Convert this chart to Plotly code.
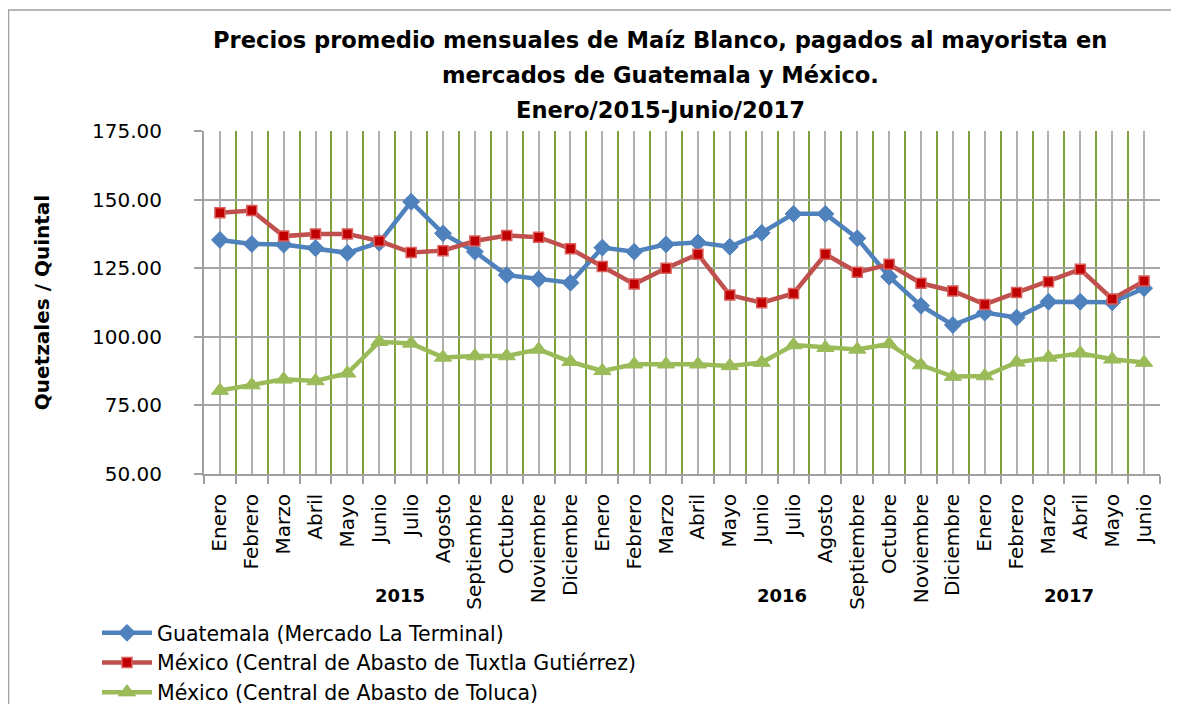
import plotly.graph_objects as go

# ---------------- data ----------------
months = ["Enero", "Febrero", "Marzo", "Abril", "Mayo", "Junio", "Julio", "Agosto",
          "Septiembre", "Octubre", "Noviembre", "Diciembre",
          "Enero", "Febrero", "Marzo", "Abril", "Mayo", "Junio", "Julio", "Agosto",
          "Septiembre", "Octubre", "Noviembre", "Diciembre",
          "Enero", "Febrero", "Marzo", "Abril", "Mayo", "Junio"]
years = ["2015"] * 12 + ["2016"] * 12 + ["2017"] * 6

guatemala = [135.3, 133.8, 133.6, 132.3, 130.6, 134.3, 149.2, 137.7, 131.0, 122.5, 121.0, 119.7,
             132.5, 131.0, 133.7, 134.4, 132.8, 137.9, 144.8, 144.8, 135.9, 121.9, 111.3, 104.3,
             108.8, 107.0, 112.8, 112.8, 112.6, 117.7]
tuxtla = [145.2, 146.0, 136.7, 137.5, 137.5, 134.9, 130.7, 131.4, 134.9, 136.9, 136.3, 132.1,
          125.6, 119.2, 125.0, 130.1, 115.2, 112.4, 115.8, 130.1, 123.5, 126.4, 119.5, 116.7,
          111.8, 116.1, 120.1, 124.6, 113.8, 120.3]
toluca = [80.4, 82.4, 84.5, 83.9, 86.7, 98.2, 97.6, 92.5, 93.0, 93.0, 95.4, 90.9,
          87.6, 90.0, 90.0, 90.0, 89.4, 90.6, 97.0, 96.0, 95.4, 97.4, 89.7, 85.5,
          85.7, 90.7, 92.5, 94.0, 91.8, 90.6]

series_names = ["Guatemala (Mercado La Terminal)",
                "México (Central de Abasto de Tuxtla Gutiérrez)",
                "México (Central de Abasto de Toluca)"]
title_lines = ["Precios promedio mensuales de Maíz Blanco, pagados al mayorista en",
               "mercados de Guatemala y México.",
               "Enero/2015-Junio/2017"]
y_title = "Quetzales / Quintal"

# ---------------- figure ----------------
OFF = 8                      # page body margin around the figure
W, H = 1171, 696
L, T = 204 - OFF, 131 - OFF  # plot area in figure pixels
R, B = W - (1160 - OFF), H - (474 - OFF)
pw, ph = W - L - R, H - T - B

x = list(range(len(months)))

def px_x(p):                 # window pixel -> paper x
    return (p - OFF - L) / pw

def px_y(p):                 # window pixel -> paper y
    return (H - B - (p - OFF)) / ph

fig = go.Figure()

styles = [
    dict(line=dict(color="#4F81BD", width=4.5),
         marker=dict(symbol="diamond", size=13, color="#4F81BD", line=dict(color="#4F81BD", width=1))),
    dict(line=dict(color="#C0504D", width=4.5),
         marker=dict(symbol="square", size=10, color="#C00000", line=dict(color="#D9605D", width=1.5))),
    dict(line=dict(color="#9BBB59", width=4.5),
         marker=dict(symbol="triangle-up", size=15, color="#9BBB59", line=dict(color="#9BBB59", width=1))),
]
for name, vals, st in zip(series_names, [guatemala, tuxtla, toluca], styles):
    fig.add_trace(go.Scatter(x=x, y=vals, name=name, mode="lines+markers",
                             legendgroup=name, **st))

# year group labels, centered under each year's months
for yr in dict.fromkeys(years):
    idx = [i for i, v in enumerate(years) if v == yr]
    fig.add_annotation(x=(idx[0] + idx[-1]) / 2 + 0.15, xref="x", y=px_y(595), yref="paper",
                       text=f"<b>{yr}</b>", showarrow=False, yanchor="middle",
                       font=dict(family="DejaVu Sans", size=18, color="#000000"))

# title lines
for i, line in enumerate(title_lines):
    fig.add_annotation(x=px_x(660), xref="paper", y=px_y(40 + 35 * i), yref="paper",
                       text=f"<b>{line}</b>", showarrow=False, xanchor="center", yanchor="middle",
                       font=dict(family="DejaVu Sans", size=22.6, color="#000000"))

# chart frame
fig.add_shape(type="rect", xref="paper", yref="paper",
              x0=px_x(8.5), x1=px_x(1250), y0=px_y(760), y1=px_y(10),
              line=dict(color="#A0A0A0", width=1.5), fillcolor="#FFFFFF", layer="below")

fig.update_layout(
    width=W, height=H,
    margin=dict(l=L, r=R, t=T, b=B, autoexpand=False),
    paper_bgcolor="#FFFFFF",
    plot_bgcolor="#FFFFFF",
    showlegend=True,
    legend=dict(x=px_x(97), y=px_y(613), xanchor="left", yanchor="top",
                orientation="v", itemwidth=50, tracegroupgap=0,
                font=dict(family="DejaVu Sans", size=20.5, color="#000000"),
                bgcolor="rgba(0,0,0,0)"),
    font=dict(family="DejaVu Sans", color="#000000"),
)

fig.update_xaxes(
    range=[-0.5, len(months) - 0.5],
    tickmode="array", tickvals=x, ticktext=months, tickangle=-90,
    tickfont=dict(family="DejaVu Sans", size=20, color="#000000"),
    ticks="", showgrid=True, gridcolor="#B0B0B0", gridwidth=1.5,
    ticklabelstandoff=10,
    minor=dict(tickmode="linear", tick0=-0.5, dtick=1, showgrid=True,
               gridcolor="#7FA23E", gridwidth=1.5,
               ticks="outside", ticklen=8, tickcolor="#A0A0A0", tickwidth=1.5),
    showline=True, linecolor="#A0A0A0", linewidth=2,
    zeroline=False,
)
fig.update_yaxes(
    range=[50, 175], tickmode="linear", tick0=50, dtick=25, tickformat=".2f",
    tickfont=dict(family="DejaVu Sans", size=20, color="#000000"),
    ticks="outside", ticklen=8, tickcolor="#A0A0A0", tickwidth=2,
    ticklabelstandoff=28,
    showgrid=True, gridcolor="#A6A6A6", gridwidth=2,
    showline=True, linecolor="#A0A0A0", linewidth=2, zeroline=False,
    title=dict(text=f"<b>{y_title}</b>", standoff=37,
               font=dict(family="DejaVu Sans", size=20, color="#000000")),
)

fig.write_html("out.html")
